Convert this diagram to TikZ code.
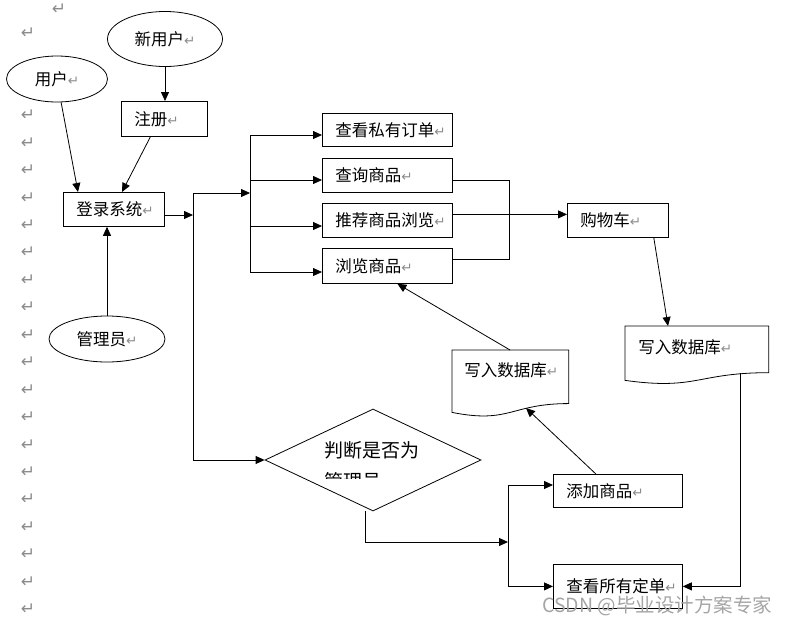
\documentclass[tikz,border=0pt]{standalone}
\usepackage{fontspec}
\setmainfont{Noto Sans CJK SC}
\newfontfamily\arrfont{DejaVu Sans}
\usetikzlibrary{arrows.meta,calc,shapes.geometric}
\definecolor{pmgray}{RGB}{140,140,140}
\definecolor{wmgray}{RGB}{165,165,165}
\newcommand\pmk{{\arrfont\fontsize{13.5}{13.5}\selectfont\color{pmgray}↵}}
\newcommand\lbox[6]{\node[box, minimum width=#4pt, minimum height=#5pt] (#1) at (#2,#3) {\makebox[\dimexpr#4pt-26pt\relax][l]{\raisebox{-2pt}{#6}}};}
\newcommand\drawdoc[1]{\draw (#1.north west) -- (#1.north east) -- ($(#1.north east)!0.802!(#1.south east)$) .. controls ($(#1.north)!0.802!(#1.south)$) and ($(#1.north)!1.1075!(#1.south)$) .. ($(#1.north west)!0.934!(#1.south west)$) -- cycle;}
\begin{document}
\begin{tikzpicture}[x=1pt,y=-1pt, line width=0.8pt, >={Triangle[length=9pt,width=8pt]},
  box/.style={draw, rectangle, fill=white, inner xsep=13pt, inner ysep=0pt, anchor=north west, font=\fontsize{16.5}{18}\selectfont},
  ell/.style={draw, ellipse, fill=white, inner sep=0pt, font=\fontsize{16.5}{18}\selectfont},
  doc/.style={rectangle, inner sep=0pt, anchor=north west},
  lbl/.style={anchor=west, inner sep=0pt, font=\fontsize{16.5}{18}\selectfont},
  pm/.style={inner sep=0pt, font=\arrfont\fontsize{17}{17}\selectfont, text=pmgray}]
\useasboundingbox (0,0) rectangle (788,627);
% paragraph marks in the margin
\node[pm] (pmtop) at (59,9) {↵};
\foreach \k in {0,3,4,...,21}{
  \node[pm] (pm\k) at (28,{33+27.45*\k}) {↵};
}
% ellipses
\node[ell, minimum width=115pt, minimum height=55pt] (newuser) at (165,39) {\raisebox{-1pt}{新用户\pmk}};
\node[ell, minimum width=101pt, minimum height=46pt] (user) at (57,79) {\raisebox{-2pt}{用户\pmk}};
\node[ell, minimum width=116pt, minimum height=46pt] (admin) at (107,339) {\raisebox{-1pt}{管理员\pmk}};
% boxes
\lbox{reg}{121}{101}{86}{35}{注册\pmk}
\lbox{login}{63}{192}{101}{34}{登录系统\pmk}
\lbox{b1}{322}{113}{130}{33}{查看私有订单\pmk}
\lbox{b2}{322}{158}{130}{34}{查询商品\pmk}
\lbox{b3}{322}{203}{130}{34}{推荐商品浏览\pmk}
\lbox{b4}{322}{248}{130}{35}{浏览商品\pmk}
\lbox{cart}{567}{203}{101}{34}{购物车\pmk}
\lbox{add}{553}{474}{129}{33}{添加商品\pmk}
\lbox{view}{553}{564}{129}{44}{查看所有定单\pmk}
% documents
\node[doc, minimum width=143pt, minimum height=57.4pt] (doc1) at (625,326) {};
\drawdoc{doc1}
\node[lbl] (doc1t) at ($(doc1.north west)+(13,21)$) {写入数据库\pmk};
\node[doc, minimum width=116pt, minimum height=66pt] (doc2) at (452,350) {};
\drawdoc{doc2}
\node[lbl] (doc2t) at ($(doc2.north west)+(12,20)$) {写入数据库\pmk};
% decision
\node[draw, diamond, minimum width=216pt, minimum height=102pt, inner sep=0pt] (dia) at (373,460) {};
\node[anchor=west, inner sep=0pt, font=\fontsize{19}{19}\selectfont] (dt1) at (324,450) {判断是否为};
\begin{scope}
\clip (300,466) rectangle (440,478);
\node[anchor=west, inner sep=0pt, font=\fontsize{19}{19}\selectfont] (dt2) at (324,481) {管理员\pmk};
\end{scope}
% connectors
\draw[->] (newuser.south) -- (newuser.south |- reg.north);
\draw[->] (user.-80) -- ($(login.north west)+(15,0)$);
\draw[->] ($(reg.south)+(-14,0)$) -- ($(login.north west)+(59,0)$);
\draw[->] (admin.north) -- (admin.north |- login.south);
\coordinate (jl) at (193,215);
\coordinate (jt) at (193,193);
\coordinate (jb) at (193,460);
\draw[->] (login.east |- jl) -- (jl);
\draw (jt) -- (jb);
\coordinate (bt) at (250,135);
\coordinate (b2in) at (250,180);
\coordinate (b3in) at (250,226);
\coordinate (bb) at (250,272);
\draw (bt) -- (bb);
\draw[->] (jt) -- (jt -| bt);
\draw[->] (bt) -- (bt -| b1.west);
\draw[->] (b2in) -- (b2in -| b2.west);
\draw[->] (b3in) -- (b3in -| b3.west);
\draw[->] (bb) -- (bb -| b4.west);
\draw[->] (jb) -- (dia.west);
\coordinate (rt) at (509,180);
\coordinate (rb) at (509,259);
\draw (rt -| b2.east) -- (rt) -- (rb) -- (rb -| b4.east);
\coordinate (m3) at ($(b3.east)+(0,-6)$);
\draw[->] (m3) -- (m3 -| cart.west);
\draw[->] ($(cart.south east)+(-15,0)$) -- ($(doc1.north west)+(43,0)$);
\coordinate (d1o) at ($(doc1.north east)+(-28,47)$);
\draw[->] (d1o) |- (view.east);
\draw[->] ($(doc2.north west)+(58,0)$) -- ($(b4.south)+(10,0)$);
\draw[->] ($(add.north)+(-22,0)$) -- ($(doc2.north west)+(74,58)$);
\coordinate (db) at ($(dia.south)+(-8,0)$);
\coordinate (dj) at (508,542);
\draw[->] (db) |- (dj);
\coordinate (vt) at (508,485);
\draw[->] (vt) -- (vt -| add.west);
\draw[->] (vt) |- (view.west);
% watermark
\node[anchor=west, inner sep=0pt, text=wmgray, font=\fontsize{19.5}{19.5}\selectfont] (wm) at (542,606) {CSDN @毕业设计方案专家};
\end{tikzpicture}
\end{document}
